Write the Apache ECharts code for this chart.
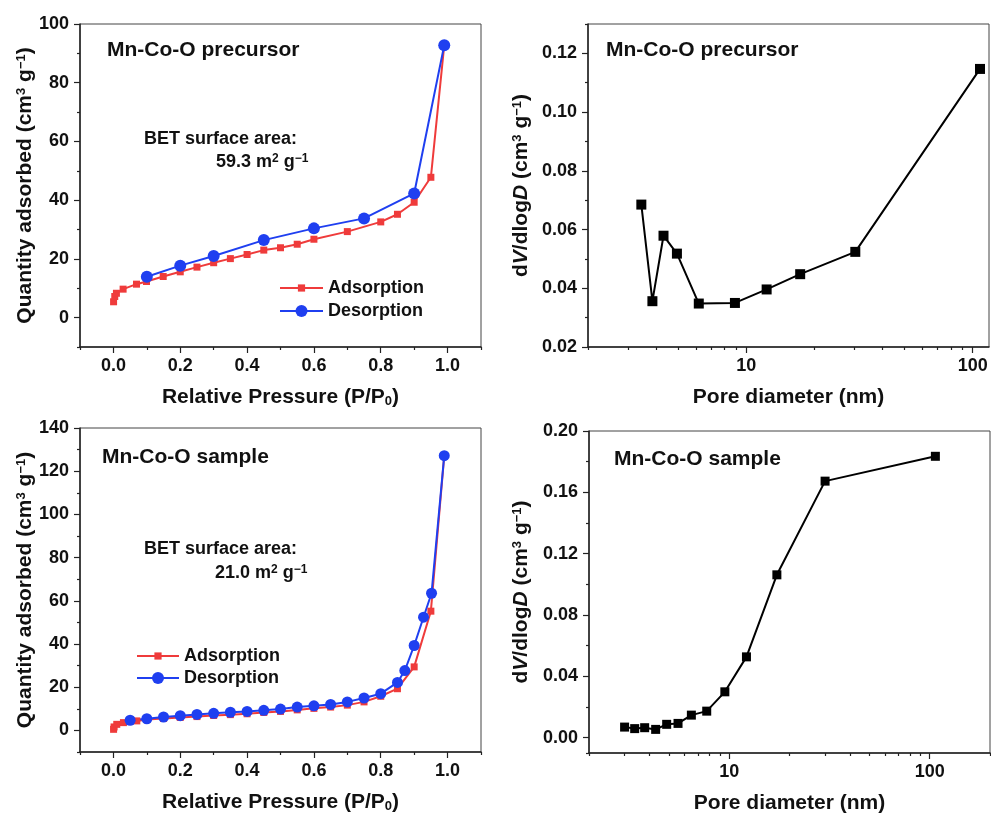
<!DOCTYPE html>
<html><head><meta charset="utf-8">
<script src="https://cdn.jsdelivr.net/npm/echarts@6/dist/echarts.min.js"></script>
<style>html,body{margin:0;padding:0;background:#fff}#c{width:991px;height:816px}</style>
</head><body><div id="c"></div>
<script>
// ---------- data ----------
// Panel (a): Mn-Co-O precursor isotherm
const p1AdsX = [0.0005,0.004,0.009,0.029,0.069,0.099,0.149,0.2,0.25,0.3,0.35,0.4,0.45,0.5,0.55,0.6,0.7,0.8,0.85,0.9,0.95,0.99];
const p1AdsY = [5.4,7.2,8.3,9.7,11.4,12.3,14.0,15.6,17.2,18.7,20.1,21.5,23.0,23.8,25.0,26.7,29.3,32.6,35.2,39.3,47.8,92.8];
const p1DesX = [0.99,0.9,0.75,0.6,0.45,0.3,0.2,0.1];
const p1DesY = [92.8,42.3,33.8,30.4,26.4,21.0,17.7,13.9];
// Panel (b): precursor pore size distribution
const p2X = [3.44,3.85,4.31,4.94,6.17,8.91,12.3,17.3,30.3,107.7];
const p2Y = [0.0685,0.0356,0.0579,0.0518,0.0348,0.0350,0.0396,0.0448,0.0524,0.1147];
// Panel (c): Mn-Co-O sample isotherm
const p3AdsX = [0.0005,0.002,0.01,0.03,0.07,0.1,0.15,0.2,0.25,0.3,0.35,0.4,0.45,0.5,0.55,0.6,0.65,0.7,0.75,0.8,0.85,0.9,0.95,0.99];
const p3AdsY = [0.5,1.6,2.8,3.6,4.4,5.0,5.5,6.0,6.4,6.9,7.3,7.7,8.3,8.8,9.5,10.2,10.8,11.7,13.2,15.8,19.3,29.4,55.2,127.2];
const p3DesX = [0.99,0.952,0.928,0.9,0.872,0.85,0.8,0.75,0.7,0.65,0.6,0.55,0.5,0.45,0.4,0.35,0.3,0.25,0.2,0.15,0.1,0.05];
const p3DesY = [127.2,63.5,52.4,39.3,27.7,22.2,17.0,15.0,13.2,12.0,11.4,10.8,9.9,9.3,8.8,8.4,7.9,7.4,6.8,6.2,5.4,4.7];
// Panel (d): sample pore size distribution
const p4X = [3.01,3.38,3.79,4.30,4.88,5.56,6.48,7.73,9.52,12.2,17.3,30.1,106.8];
const p4Y = [0.0069,0.0059,0.0065,0.0054,0.0087,0.0093,0.0147,0.0173,0.0299,0.0527,0.1062,0.1673,0.1835];

// tick values
const pressMajor = [0.0,0.2,0.4,0.6,0.8,1.0];
const pressMinor = [-0.1,0.1,0.3,0.5,0.7,0.9,1.1];
const q1Major = [0,20,40,60,80,100];
const q1Minor = [-10,10,30,50,70,90];
const q3Major = [0,20,40,60,80,100,120,140];
const q3Minor = [-10,10,30,50,70,90,110,130];
const d2Major = [0.02,0.04,0.06,0.08,0.10,0.12];
const d2Minor = [0.03,0.05,0.07,0.09,0.11,0.13];
const d4Major = [0.00,0.04,0.08,0.12,0.16,0.20];
const d4Minor = [-0.01,0.02,0.06,0.10,0.14,0.18];
const logMajor = [10,100];
const logMinor = [2,3,4,5,6,7,8,9,20,30,40,50,60,70,80,90,200];

// ---------- helpers ----------
const FONT = '"Liberation Sans", Arial, Helvetica, sans-serif';
const RED = '#ef3b3b', BLUE = '#1f3ff0', INK = '#111';
const zip = (a, b) => a.map((v, i) => [v, b[i]]);
const richName = {
  t: {fontSize: 21, fontWeight: 'bold', fontFamily: FONT, color: INK},
  sup: {fontSize: 13, fontWeight: 'bold', fontFamily: FONT, color: INK, verticalAlign: 'top'},
  sub: {fontSize: 13, fontWeight: 'bold', fontFamily: FONT, color: INK, verticalAlign: 'bottom'},
  i: {fontSize: 21, fontWeight: 'bold', fontStyle: 'italic', fontFamily: FONT, color: INK}
};
const nameStyle = {fontSize: 21, fontWeight: 'bold', fontFamily: FONT, color: INK, rich: richName};
const labelStyle = {fontSize: 18, fontWeight: 'bold', fontFamily: FONT, color: INK};
const lineC = {lineStyle: {color: '#222', width: 1.5}};

function mainAxis(pos, gi, type, min, max, major, fmt, name, gap, margin) {
  return {
    type, gridIndex: gi, position: pos, offset: 0, min, max, logBase: 10,
    name, nameLocation: 'middle', nameGap: gap, nameTextStyle: nameStyle, nameMoveOverlap: false,
    axisLine: {show: true, onZero: false, ...lineC},
    axisTick: {show: true, inside: false, length: 6, customValues: major, lineStyle: {color: '#222', width: 1.2}},
    axisLabel: {show: true, margin, customValues: major, formatter: fmt, ...labelStyle},
    splitLine: {show: false}, minorTick: {show: false}
  };
}
function minorAxis(pos, gi, type, min, max, minor) {
  return {
    type, gridIndex: gi, position: pos, offset: 0, min, max, logBase: 10,
    axisLine: {show: false, onZero: false},
    axisTick: {show: true, inside: false, length: 3, customValues: minor, lineStyle: {color: '#222', width: 1.2}},
    axisLabel: {show: false}, splitLine: {show: false}
  };
}
const f1 = v => Number(v).toFixed(1);
const f2 = v => Number(v).toFixed(2);
const fl = v => String(Math.round(v));

const xName = '{t|Relative Pressure (P/P}{sub|0}{t|)}';
const poreName = 'Pore diameter (nm)';
const qName = 'Quantity adsorbed (cm{sup|3}{t| g}{sup|−1}{t|)}';
const dvName = 'd{i|V}{t|/dlog}{i|D}{t| (cm}{sup|3}{t| g}{sup|−1}{t|)}';

const grids = [
  {left: 80, top: 24, width: 401, height: 323},
  {left: 588, top: 24, width: 401, height: 323},
  {left: 80, top: 428, width: 401, height: 324},
  {left: 589, top: 431, width: 401, height: 322}
].map(g => ({...g, show: true, borderColor: '#444', borderWidth: 1, backgroundColor: 'transparent', containLabel: false, outerBoundsMode: 'none'}));

const xAxis = [
  mainAxis('bottom', 0, 'value', -0.1, 1.1, pressMajor, f1, xName, 40, 10),
  minorAxis('bottom', 0, 'value', -0.1, 1.1, pressMinor),
  mainAxis('bottom', 1, 'log', 2, 118, logMajor, fl, poreName, 40, 10),
  minorAxis('bottom', 1, 'log', 2, 118, logMinor),
  mainAxis('bottom', 2, 'value', -0.1, 1.1, pressMajor, f1, xName, 40, 10),
  minorAxis('bottom', 2, 'value', -0.1, 1.1, pressMinor),
  mainAxis('bottom', 3, 'log', 2, 200, logMajor, fl, poreName, 40, 10),
  minorAxis('bottom', 3, 'log', 2, 200, logMinor)
];
const yAxis = [
  mainAxis('left', 0, 'value', -10, 100, q1Major, v => String(v), qName, 44, 11),
  minorAxis('left', 0, 'value', -10, 100, q1Minor),
  mainAxis('left', 1, 'value', 0.02, 0.13, d2Major, f2, dvName, 56, 11),
  minorAxis('left', 1, 'value', 0.02, 0.13, d2Minor),
  mainAxis('left', 2, 'value', -10, 140, q3Major, v => String(v), qName, 44, 11),
  minorAxis('left', 2, 'value', -10, 140, q3Minor),
  mainAxis('left', 3, 'value', -0.01, 0.20, d4Major, f2, dvName, 57, 11),
  minorAxis('left', 3, 'value', -0.01, 0.20, d4Minor)
];

function lineSeries(name, xi, data, color, symbol, size) {
  return {
    name, type: 'line', xAxisIndex: xi, yAxisIndex: xi, data,
    symbol, symbolSize: size, showSymbol: true,
    lineStyle: {color, width: 2}, itemStyle: {color},
    emphasis: {disabled: true}, animation: false, clip: false
  };
}
const series = [
  lineSeries('Adsorption', 0, zip(p1AdsX, p1AdsY), RED, 'rect', 7),
  lineSeries('Desorption', 0, zip(p1DesX, p1DesY), BLUE, 'circle', 12),
  lineSeries('PSD1', 2, zip(p2X, p2Y), '#000', 'rect', 10),
  lineSeries('Adsorption', 4, zip(p3AdsX, p3AdsY), RED, 'rect', 7),
  lineSeries('Desorption', 4, zip(p3DesX, p3DesY), BLUE, 'circle', 11),
  lineSeries('PSD2', 6, zip(p4X, p4Y), '#000', 'rect', 9)
];

const legTxt = {fontSize: 18, fontWeight: 'bold', fontFamily: FONT, color: INK};
function legend(name, left, top, w, h) {
  return {data: [name], left, top, itemWidth: w, itemHeight: h, padding: 0, itemGap: 0,
          selectedMode: false, textStyle: legTxt, backgroundColor: 'transparent'};
}
const legends = [
  legend('Adsorption', 279, 279, 43, 9),
  legend('Desorption', 279, 302, 43, 15),
  legend('Adsorption', 136, 647, 42, 9),
  legend('Desorption', 136, 669, 42, 15)
];

const txtBase = {fontSize: 21, fontWeight: 'bold', fontFamily: FONT, fill: INK};
const annRich = {
  a: {fontSize: 18, fontWeight: 'bold', fontFamily: FONT, color: INK},
  s: {fontSize: 12, fontWeight: 'bold', fontFamily: FONT, color: INK, verticalAlign: 'top'}
};
function label(text, left, top, size) {
  return {type: 'text', left, top, z: 100, style: {...txtBase, fontSize: size, text}};
}
function richLabel(text, left, top) {
  return {type: 'text', left, top, z: 100, style: {...txtBase, fontSize: 18, text, rich: annRich}};
}
const graphic = [
  label('Mn-Co-O precursor', 107, 40, 21),
  label('BET surface area:', 144, 130, 18),
  richLabel('{a|59.3 m}{s|2}{a| g}{s|−1}', 216, 153),
  label('Mn-Co-O precursor', 606, 40, 21),
  label('Mn-Co-O sample', 102, 447, 21),
  label('BET surface area:', 144, 540, 18),
  richLabel('{a|21.0 m}{s|2}{a| g}{s|−1}', 215, 564),
  label('Mn-Co-O sample', 614, 449, 21)
];

const chart = echarts.init(document.getElementById('c'), null, {renderer: 'canvas'});
chart.setOption({
  backgroundColor: '#fff',
  animation: false,
  grid: grids,
  xAxis, yAxis, series,
  legend: legends,
  graphic
});
</script></body></html>
